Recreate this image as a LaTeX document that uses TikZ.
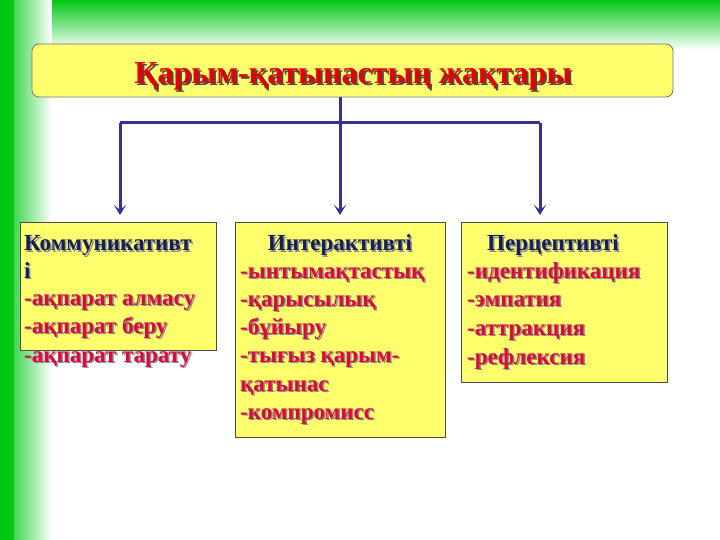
\documentclass[tikz,border=0pt]{standalone}
\usepackage{fontspec}
\setmainfont{Liberation Serif}
\usetikzlibrary{positioning,arrows.meta}
\definecolor{bgGreen}{RGB}{0,200,20}
\definecolor{boxYellow}{RGB}{255,255,110}
\definecolor{lineBlue}{RGB}{50,50,150}
\definecolor{headNavy}{RGB}{20,30,90}
\definecolor{itemRed}{RGB}{220,10,60}
\tikzset{
  box/.style={draw=black!70, fill=boxYellow, line width=0.8pt},
  link/.style={draw=lineBlue, line width=3pt, -{Stealth[length=10pt,width=12pt,inset=5pt]}},
  bar/.style={draw=lineBlue, line width=3pt},
  txt/.style={font=\bfseries\fontsize{23}{26}\selectfont, inner sep=0pt},
}
% text with a grey shadow, placed by its baseline
\newcommand{\shline}[5]{%
  \node[txt, anchor=#2, text=black!45] (#1s) at ([xshift=1.5pt,yshift=-1.5pt]#3) {#5};
  \node[txt, anchor=#2, text=#4] (#1) at (#3) {#5};}
\begin{document}
\begin{tikzpicture}[x=1pt,y=-1pt]
  \useasboundingbox (0,0) rectangle (720,540);
  % background
  \fill[white] (0,0) rectangle (720,540);
  \shade[left color=bgGreen, right color=white] (0,0) rectangle (52,540);
  \shade[top color=bgGreen, bottom color=white] (52,0) rectangle (720,50);
  \fill[bgGreen] (0,0) rectangle (14,540);
  % title
  \draw[box, rounded corners=7pt, draw=black!55] (32,44) rectangle (673,97);
  \node[font=\bfseries\fontsize{32}{34}\selectfont, text=black!70] (titleShadow) at (355,78) {Қарым-қатынастың жақтары};
  \node[font=\bfseries\fontsize{32}{34}\selectfont, text=red!90!black] (title) at (353,76) {Қарым-қатынастың жақтары};
  % connectors
  \coordinate (top) at (340,97);
  \coordinate (barL) at (120,123);
  \coordinate (barR) at (540,123);
  \draw[bar] (barL) -- (barR);
  \draw[link] (top) -- (340,215);
  \draw[link] (barL) -- (120,215);
  \draw[link] (barR) -- (540,215);
  % boxes
  \draw[box] (20,222) rectangle (216,350);
  \draw[box] (235,222) rectangle (445,437);
  \draw[box] (461,222) rectangle (667,382);
  % box 1
  \shline{commA}{base west}{24,251}{headNavy}{Коммуникативт}
  \shline{commB}{base west}{24,278}{headNavy}{і}
  \foreach \i/\y/\t in {1/305/ақпарат алмасу, 2/333/ақпарат беру, 3/362/ақпарат тарату}
    {\shline{comm\i}{base west}{24,\y}{itemRed}{-\t}}
  % box 2
  \shline{interHead}{base}{340,251}{headNavy}{Интерактивті}
  \foreach \i/\y/\t in {1/278/-ынтымақтастық, 2/306/-қарысылық, 3/334/-бұйыру,
      4/362/-тығыз қарым-, 5/391/қатынас, 6/419/-компромисс}
    {\shline{inter\i}{base west}{240,\y}{itemRed}{\t}}
  % box 3
  \shline{percHead}{base}{553,251}{headNavy}{Перцептивті}
  \foreach \i/\y/\t in {1/278/идентификация, 2/306/эмпатия, 3/335/аттракция, 4/364/рефлексия}
    {\shline{perc\i}{base west}{467,\y}{itemRed}{-\t}}
\end{tikzpicture}
\end{document}
